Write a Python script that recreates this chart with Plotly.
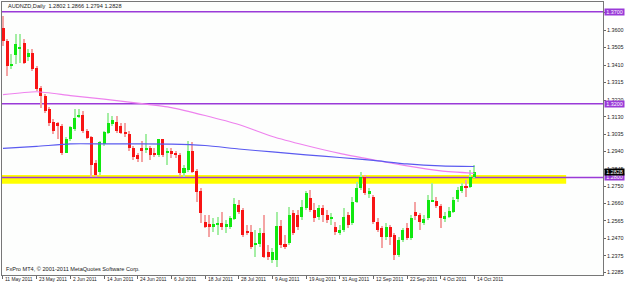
import plotly.graph_objects as go
import pandas as pd

# ---------------- data ----------------
symbol_title = "AUDNZD,Daily  1.2802 1.2866 1.2794 1.2828"
footer_text = "FxPro MT4, \u00a9 2001-2011 MetaQuotes Software Corp."

dates = pd.bdate_range("2011-05-11", "2011-10-14")  # 113 daily bars

open_ = [1.3612, 1.3541, 1.3406, 1.3466, 1.3498, 1.3531, 1.3455, 1.3476, 1.3395, 1.3287,
         1.3244, 1.3174, 1.3103, 1.3098, 1.3081, 1.2935, 1.3011, 1.3065, 1.3130, 1.3141,
         1.3054, 1.3022, 1.2876, 1.2827, 1.2984, 1.3043, 1.3092, 1.3103, 1.3081, 1.3049,
         1.3038, 1.2962, 1.2919, 1.2957, 1.2952, 1.2962, 1.2930, 1.2919, 1.3006, 1.2930,
         1.2946, 1.2935, 1.2919, 1.2822, 1.2838, 1.2946, 1.2833, 1.2724, 1.2557, 1.2546,
         1.2530, 1.2540, 1.2551, 1.2530, 1.2530, 1.2573, 1.2649, 1.2622, 1.2508, 1.2503,
         1.2432, 1.2438, 1.2497, 1.2394, 1.2351, 1.2351, 1.2535, 1.2438, 1.2443, 1.2605,
         1.2594, 1.2584, 1.2632, 1.2687, 1.2622, 1.2584, 1.2632, 1.2594, 1.2573, 1.2530,
         1.2503, 1.2513, 1.2594, 1.2551, 1.2665, 1.2740, 1.2800, 1.2714, 1.2692, 1.2557,
         1.2524, 1.2476, 1.2530, 1.2486, 1.2378, 1.2459, 1.2524, 1.2470, 1.2611, 1.2594,
         1.2551, 1.2578, 1.2670, 1.2670, 1.2643, 1.2573, 1.2584, 1.2611, 1.2681, 1.2724,
         1.2751, 1.2746, 1.2802]
close = [1.3541, 1.3406, 1.3417, 1.3525, 1.3504, 1.3422, 1.3476, 1.3390, 1.3282, 1.3244,
         1.3163, 1.3098, 1.3054, 1.3081, 1.2935, 1.3011, 1.3071, 1.3125, 1.3141, 1.3054,
         1.3016, 1.2865, 1.2811, 1.2990, 1.3049, 1.3098, 1.3109, 1.3054, 1.3043, 1.3038,
         1.2962, 1.2908, 1.2898, 1.2946, 1.2962, 1.2919, 1.2919, 1.3006, 1.2919, 1.2946,
         1.2925, 1.2925, 1.2822, 1.2849, 1.2946, 1.2827, 1.2719, 1.2605, 1.2530, 1.2530,
         1.2546, 1.2551, 1.2530, 1.2546, 1.2578, 1.2654, 1.2611, 1.2486, 1.2503, 1.2422,
         1.2443, 1.2497, 1.2367, 1.2367, 1.2394, 1.2535, 1.2432, 1.2422, 1.2594, 1.2497,
         1.2530, 1.2638, 1.2714, 1.2622, 1.2578, 1.2632, 1.2594, 1.2567, 1.2584, 1.2503,
         1.2513, 1.2584, 1.2540, 1.2665, 1.2740, 1.2800, 1.2714, 1.2724, 1.2557, 1.2513,
         1.2476, 1.2530, 1.2476, 1.2378, 1.2459, 1.2513, 1.2470, 1.2578, 1.2589, 1.2557,
         1.2573, 1.2676, 1.2676, 1.2643, 1.2578, 1.2589, 1.2616, 1.2676, 1.2730, 1.2751,
         1.2746, 1.2800, 1.2828]
high = [1.3677, 1.3552, 1.3471, 1.3580, 1.3580, 1.3552, 1.3498, 1.3498, 1.3406, 1.3298,
        1.3255, 1.3184, 1.3119, 1.3103, 1.3092, 1.3022, 1.3081, 1.3174, 1.3174, 1.3163,
        1.3065, 1.3027, 1.2892, 1.3000, 1.3054, 1.3152, 1.3136, 1.3136, 1.3098, 1.3098,
        1.3054, 1.2973, 1.2935, 1.3000, 1.3038, 1.2973, 1.2957, 1.3011, 1.3011, 1.2957,
        1.2957, 1.2946, 1.2930, 1.2865, 1.3000, 1.2990, 1.2844, 1.2740, 1.2594, 1.2594,
        1.2578, 1.2584, 1.2611, 1.2567, 1.2589, 1.2687, 1.2676, 1.2632, 1.2540, 1.2540,
        1.2513, 1.2524, 1.2594, 1.2432, 1.2416, 1.2611, 1.2567, 1.2486, 1.2638, 1.2622,
        1.2622, 1.2676, 1.2724, 1.2730, 1.2660, 1.2649, 1.2649, 1.2622, 1.2605, 1.2557,
        1.2540, 1.2632, 1.2611, 1.2692, 1.2773, 1.2827, 1.2811, 1.2740, 1.2703, 1.2578,
        1.2535, 1.2551, 1.2540, 1.2497, 1.2476, 1.2524, 1.2551, 1.2594, 1.2665, 1.2605,
        1.2594, 1.2703, 1.2768, 1.2692, 1.2654, 1.2611, 1.2638, 1.2692, 1.2746, 1.2768,
        1.2784, 1.2838, 1.2866]
low = [1.3514, 1.3352, 1.3390, 1.3417, 1.3422, 1.3417, 1.3433, 1.3379, 1.3271, 1.3179,
       1.3152, 1.3081, 1.3038, 1.3011, 1.2919, 1.2930, 1.3000, 1.3054, 1.3125, 1.3043,
       1.3006, 1.2800, 1.2800, 1.2811, 1.2973, 1.3038, 1.3081, 1.3043, 1.3033, 1.3022,
       1.2946, 1.2892, 1.2881, 1.2881, 1.2935, 1.2892, 1.2908, 1.2908, 1.2908, 1.2865,
       1.2903, 1.2903, 1.2806, 1.2800, 1.2827, 1.2822, 1.2665, 1.2551, 1.2524, 1.2476,
       1.2503, 1.2486, 1.2513, 1.2497, 1.2519, 1.2567, 1.2600, 1.2476, 1.2486, 1.2411,
       1.2367, 1.2422, 1.2362, 1.2351, 1.2335, 1.2313, 1.2416, 1.2411, 1.2432, 1.2486,
       1.2513, 1.2567, 1.2622, 1.2611, 1.2557, 1.2567, 1.2557, 1.2551, 1.2540, 1.2486,
       1.2486, 1.2503, 1.2524, 1.2540, 1.2660, 1.2730, 1.2703, 1.2687, 1.2546, 1.2503,
       1.2416, 1.2459, 1.2432, 1.2351, 1.2367, 1.2449, 1.2459, 1.2459, 1.2567, 1.2513,
       1.2540, 1.2567, 1.2665, 1.2632, 1.2524, 1.2557, 1.2578, 1.2605, 1.2665, 1.2714,
       1.2692, 1.2740, 1.2794]

# moving averages, read at every 8th bar
ma_bars = [0, 8, 16, 24, 32, 40, 48, 56, 64, 72, 80, 88, 96, 104, 112]
ma_pink = [1.3249, 1.3265, 1.3244, 1.3225, 1.3203, 1.3179, 1.3136, 1.3087, 1.3022,
           1.2973, 1.2930, 1.2895, 1.2862, 1.2835, 1.2822]
ma_blue = [1.2957, 1.2968, 1.2982, 1.2982, 1.2982, 1.2981, 1.2973, 1.2954, 1.2938,
           1.2922, 1.2908, 1.2892, 1.2873, 1.2862, 1.2859]

hlines = [1.3700, 1.3200, 1.2800]
zone_low, zone_high = 1.2765, 1.2813
zone_end_bar = 133.8
last_price = 1.2828

ytick_vals = [1.2285, 1.2375, 1.2470, 1.2565, 1.2660, 1.2750, 1.2845, 1.2940, 1.3035,
              1.3130, 1.3220, 1.3315, 1.3410, 1.3505, 1.3600, 1.3695]
date_tick_bars = list(range(0, 113, 8))

# ---------------- styling ----------------
FONT = "Liberation Sans"
RED, GREEN = "#f81414", "#10e810"
RED_W, GREEN_W = "#f4a4a4", "#a4eea4"
PURPLE = "#9a3ad8"

n = len(open_)
xs = list(range(n))
up = [c >= o for o, c in zip(open_, close)]

fig = go.Figure()

# wicks
fig.add_trace(go.Bar(
    x=xs, base=low, y=[h - l for h, l in zip(high, low)], width=0.26,
    marker=dict(color=[GREEN_W if u else RED_W for u in up], line=dict(width=0)),
    hoverinfo="skip", showlegend=False))
# bodies
fig.add_trace(go.Bar(
    x=xs, base=[min(o, c) for o, c in zip(open_, close)],
    y=[max(abs(c - o), 0.00025) for o, c in zip(open_, close)], width=0.72,
    marker=dict(color=[GREEN if u else RED for u in up], line=dict(width=0)),
    showlegend=False))

fig.add_trace(go.Scatter(x=ma_bars, y=ma_pink, mode="lines",
                         line=dict(color="#ee82ee", width=1.2, shape="spline", smoothing=0.6),
                         showlegend=False, hoverinfo="skip"))
fig.add_trace(go.Scatter(x=ma_bars, y=ma_blue, mode="lines",
                         line=dict(color="#5a5af0", width=1.2, shape="spline", smoothing=0.6),
                         showlegend=False, hoverinfo="skip"))

shapes = [dict(type="rect", xref="paper", x0=0, yref="y", y0=zone_low, y1=zone_high,
               x1=(zone_end_bar + 0.236) / (142.55 + 0.236),
               fillcolor="#ffff00", line=dict(width=0), layer="below")]
for h in hlines:
    shapes.append(dict(type="line", xref="paper", x0=0, x1=1, yref="y", y0=h, y1=h,
                       line=dict(color=PURPLE, width=1.5), layer="below"))

ann = [
    dict(text=symbol_title, xref="paper", yref="paper", x=0.006, y=0.985,
         xanchor="left", yanchor="middle", showarrow=False,
         font=dict(family=FONT, size=5.6, color="#222")),
    dict(text=footer_text, xref="paper", yref="paper", x=0.004, y=0.022,
         xanchor="left", yanchor="middle", showarrow=False,
         font=dict(family=FONT, size=5.6, color="#222")),
]
for b in date_tick_bars:
    d = dates[b]
    ann.append(dict(text=f"{d.day} {d.strftime('%b %Y')}", x=b, xref="x",
                    yref="paper", y=-0.016, xanchor="left", yanchor="middle",
                    showarrow=False, xshift=0.5,
                    font=dict(family=FONT, size=4.9, color="#222")))
for h in hlines:
    ann.append(dict(text=f"{h:.4f}", xref="paper", x=1.0, xanchor="left", xshift=1,
                    y=h, yref="y", yanchor="middle", showarrow=False, bgcolor=PURPLE,
                    borderpad=0, width=19, height=6,
                    font=dict(family=FONT, size=5.4, color="white")))
ann.append(dict(text=f"{last_price:.4f}", xref="paper", x=1.0, xanchor="left", xshift=1,
                y=last_price, yref="y", yanchor="middle", showarrow=False, bgcolor="#000000",
                borderpad=0, width=19, height=6,
                font=dict(family=FONT, size=5.4, color="white")))

fig.update_layout(
    width=625, height=283,
    margin=dict(l=1, r=20, t=1, b=8),
    paper_bgcolor="#ffffff", plot_bgcolor="#fdfefd",
    barmode="overlay", bargap=0,
    shapes=shapes, annotations=ann,
    font=dict(family=FONT, size=5.6, color="#222"),
    hovermode=False,
)
fig.update_xaxes(range=[-0.236, 142.55], showgrid=False, zeroline=False,
                 tickvals=date_tick_bars, ticks="outside", ticklen=3, tickcolor="#666",
                 showticklabels=False, showline=True, linecolor="#777", linewidth=1,
                 mirror=True)
fig.update_yaxes(range=[1.22698, 1.37525], side="right", showgrid=False, zeroline=False,
                 tickvals=ytick_vals, ticktext=[f"{v:.4f}" for v in ytick_vals],
                 ticks="outside", ticklen=2, tickcolor="#666",
                 tickfont=dict(family=FONT, size=5.4, color="#222"),
                 showline=True, linecolor="#777", linewidth=1, mirror=True)

fig.write_html("out.html")
